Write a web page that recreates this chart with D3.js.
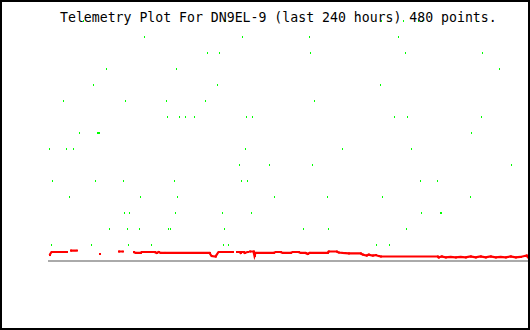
<!DOCTYPE html>
<html>
  <head>
    <meta charset="UTF-8" />
    <title>Telemetry</title>
    <style>
      body { margin: 0; background: #fff; }
      svg { display: block; }
    </style>
    <script src="https://d3js.org/d3.v7.min.js"></script>
  </head>
  <body>
    <div id="viz"></div>
    <script>
      const title = 'Telemetry Plot For DN9EL-9 (last 240 hours) 480 points.';
      const nPoints = 480;

      // green channel: sample index and level (0..15)
      const greenIdx = [
        34, 176, 332, 354, 369, 373, 427,
        95, 193, 260, 349,
        158, 170, 261, 356, 433,
        57, 127, 450,
        44, 168, 331,
        14, 76, 117, 156, 265,
        118, 130, 136, 145, 197, 203, 345, 358, 432,
        30, 48, 49, 50, 422,
        0, 17, 24, 196, 293, 362,
        190, 220, 263, 462,
        3, 46, 74, 125, 192, 198, 371, 388,
        20, 91, 128, 225, 278, 333, 421,
        75, 80, 126, 173, 202, 372, 391, 392,
        60, 78, 90, 119, 121, 175, 254, 279, 357,
        2, 42, 79, 102, 174, 179, 327, 340
      ];
      const greenVal = [
        15, 15, 15, 15, 15, 15, 15,
        14, 14, 14, 14,
        13, 13, 13, 13, 13,
        12, 12, 12,
        11, 11, 11,
        10, 10, 10, 10, 10,
        9, 9, 9, 9, 9, 9, 9, 9, 9,
        8, 8, 8, 8, 8,
        7, 7, 7, 7, 7, 7,
        6, 6, 6, 6,
        5, 5, 5, 5, 5, 5, 5, 5,
        4, 4, 4, 4, 4, 4, 4,
        3, 3, 3, 3, 3, 3, 3, 3,
        2, 2, 2, 2, 2, 2, 2, 2, 2,
        1, 1, 1, 1, 1, 1, 1, 1
      ];

      // red channel: sample index and value, null = no data
      const redIdx = [
        0, 2, 7, 8,
        9, 17, 18,
        21, 27, 28,
        50, 51,
        69, 73, 74,
        84, 86, 91, 92, 95, 96,
        97, 105, 107, 109, 111, 115, 160, 162, 166, 169, 183, 184,
        187, 190, 191, 192, 194, 195, 198, 199,
        200, 204, 205, 206, 224, 226, 231, 233, 241, 243, 249, 251, 256,
        258, 260, 278, 279, 287, 289, 293, 299, 311, 313, 317, 319, 323,
        326, 329, 331, 388, 389, 392, 396, 401, 406, 411, 416, 421, 426,
        431, 436, 441, 446, 451, 456, 461, 466, 471, 475, 477, 479
      ];
      const redVal = [
        0.31, 0.5, 0.5, null,
        0.5, 0.5, null,
        0.59, 0.59, null,
        0.375, null,
        0.53, 0.53, null,
        0.5, 0.44, 0.44, 0.5, 0.5, null,
        0.5, 0.5, 0.44, 0.5, 0.44, 0.44, 0.44, 0.25, 0.22, 0.5, 0.5, null,
        0.5, 0.5, 0.44, 0.5, 0.5, 0.44, 0.5, null,
        0.53, 0.53, 0.25, 0.44, 0.44, 0.5, 0.5, 0.44, 0.44, 0.5, 0.5, 0.44, 0.44,
        0.375, 0.44, 0.44, 0.53, 0.53, 0.47, 0.44, 0.41, 0.41, 0.34, 0.28, 0.34, 0.28,
        0.31, 0.25, 0.22, 0.22, 0.16, 0.22, 0.16, 0.19, 0.16, 0.19, 0.16, 0.22, 0.16,
        0.22, 0.16, 0.22, 0.16, 0.19, 0.16, 0.22, 0.16, 0.19, 0.25, 0.28, 0.125
      ];

      const width = 530, height = 330;

      const svg = d3.select('#viz')
        .append('svg')
        .attr('width', width)
        .attr('height', height);

      svg.append('rect')
        .attr('width', width)
        .attr('height', height)
        .attr('fill', '#fff');

      const x = d3.scaleLinear().domain([0, nPoints - 1]).range([49, 528]);
      const y = d3.scaleLinear().domain([0, 15]).range([260, 20]);

      // baseline
      svg.append('rect')
        .attr('x', x(0) - 1)
        .attr('y', y(0))
        .attr('width', x(nPoints - 1) - x(0) + 2)
        .attr('height', 2)
        .attr('fill', '#aaaaaa');

      // green dots
      const green = greenIdx.map((d, i) => [d, greenVal[i]]);
      svg.append('g')
        .selectAll('rect')
        .data(green)
        .join('rect')
        .attr('x', (d) => x(d[0]))
        .attr('y', (d) => y(d[1]))
        .attr('width', 1)
        .attr('height', 2)
        .attr('fill', '#00ff00');

      // red line
      const red = redIdx.map((d, i) => [d, redVal[i]]);
      const line = d3.line()
        .defined((d) => d[1] !== null)
        .x((d) => x(d[0]) + 0.5)
        .y((d) => y(d[1]));
      svg.append('path')
        .datum(red)
        .attr('d', line)
        .attr('fill', 'none')
        .attr('stroke', '#ff0000')
        .attr('stroke-width', 2.2);
      svg.append('g')
        .selectAll('rect')
        .data(red.filter((d) => d[1] !== null))
        .join('rect')
        .attr('x', (d) => x(d[0]))
        .attr('y', (d) => y(d[1]) - 1)
        .attr('width', 2)
        .attr('height', 2)
        .attr('fill', '#ff0000');

      // title
      svg.append('text')
        .attr('x', 60)
        .attr('y', 22)
        .attr('font-family', 'DejaVu Sans Mono, monospace')
        .attr('font-size', 13.2)
        .attr('fill', '#000')
        .text(title);

      // frame
      svg.append('rect')
        .attr('x', 1)
        .attr('y', 1)
        .attr('width', width - 2)
        .attr('height', height - 2)
        .attr('fill', 'none')
        .attr('stroke', '#000')
        .attr('stroke-width', 2);
    </script>
  </body>
</html>
